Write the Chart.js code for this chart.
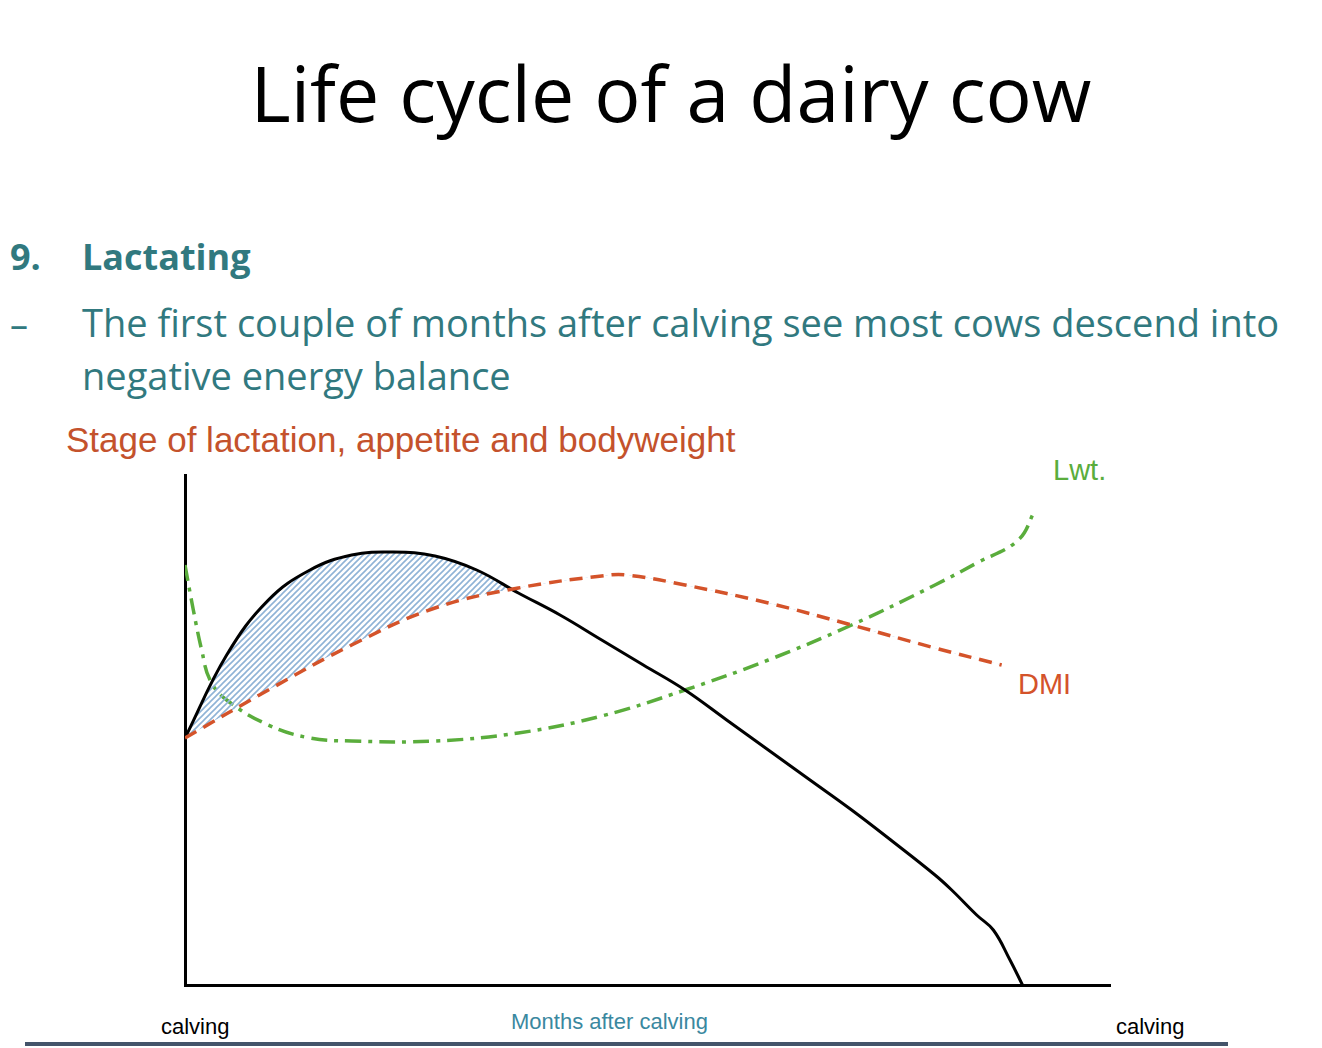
<!DOCTYPE html>
<html><head><meta charset="utf-8">
<script src="https://cdn.jsdelivr.net/npm/chart.js@4"></script>
<style>
body{margin:0;width:1322px;height:1048px;position:relative;background:#fff;font-family:"Liberation Sans",Arial,sans-serif;overflow:hidden}
.t{position:absolute;white-space:nowrap}
#wrap{position:absolute;left:0;top:0;width:1322px;height:1048px}
</style></head><body>
<div class="t" style="left:0;width:1342px;text-align:center;top:40px;font-size:77px;font-family:'Open Sans',sans-serif;color:#000">Life cycle of a dairy cow</div>
<div class="t" style="left:10px;top:232px;font-size:36px;font-weight:bold;color:#31797f;font-family:'Open Sans',sans-serif">9.</div>
<div class="t" style="left:82px;top:232px;font-size:36px;font-weight:bold;color:#31797f;font-family:'Open Sans',sans-serif">Lactating</div>
<div class="t" style="left:10px;top:300px;font-size:36px;color:#31797f;font-family:'Open Sans',sans-serif">–</div>
<div class="t" style="left:82px;top:296px;font-size:38px;color:#31797f;font-family:'Open Sans',sans-serif;line-height:53px">The first couple of months after calving see most cows descend into<br>negative energy balance</div>
<div class="t" style="left:66px;top:420px;font-size:35px;color:#c4522c">Stage of lactation, appetite and bodyweight</div>
<div class="t" style="left:1053px;top:454px;font-size:29px;color:#5aad3c;font-family:'Liberation Sans Narrow','Liberation Sans'">Lwt.</div>
<div class="t" style="left:1018px;top:668px;font-size:29px;color:#d4532a;font-family:'Liberation Sans Narrow','Liberation Sans'">DMI</div>
<div class="t" style="left:161px;top:1014px;font-size:22px;color:#000;font-family:'Liberation Sans Narrow','Liberation Sans'">calving</div>
<div class="t" style="left:1116px;top:1014px;font-size:22px;color:#000;font-family:'Liberation Sans Narrow','Liberation Sans'">calving</div>
<div class="t" style="left:511px;top:1009px;font-size:22px;color:#3a88a0;font-family:'Liberation Sans Narrow','Liberation Sans'">Months after calving</div>
<div style="position:absolute;left:25px;top:1042px;width:1203px;height:4px;background:#44546a"></div>
<div id="wrap"><canvas id="c" width="1322" height="1048"></canvas></div>
<script>
const milkX=[0,0.5,1,1.5,2,2.5,3,3.5,4,4.5,5,5.5,6,6.5,7,7.5,8,8.5,9,9.2,9.5,9.7,9.9,10.05];
const milkY=[247,330,385,415,430,433,429,415,392,370,345,320,295,265,235,205,175,143,110,95,70,55,25,0];
const dmiX=[0,1,2,3,4,5,5.3,6,7,8,9,9.8];
const dmiY=[247,295,340,377,397,409,410,400,382,360,337,320];
const lwtX=[0,0.1,0.2,0.3,0.5,1,1.5,2,3,4,5,6,7,8,9,9.5,10,10.2];
const lwtY=[420,375,335,305,285,260,247,244,244,252,269,295,325,360,400,422,445,475];
const xTicks=[0,2,4,6,8,10];
const pts=(xs,ys)=>xs.map((x,i)=>({x,y:ys[i]}));
const pc=document.createElement('canvas');pc.width=6;pc.height=6;
const g=pc.getContext('2d');g.strokeStyle='#8fb3d6';g.lineWidth=1.6;
g.beginPath();g.moveTo(0,6);g.lineTo(6,0);g.moveTo(-3,3);g.lineTo(3,-3);g.moveTo(3,9);g.lineTo(9,3);g.stroke();
const pattern=g.createPattern(pc,'repeat');
new Chart(document.getElementById('c'),{type:'line',
data:{datasets:[
{label:'DMI',data:pts(dmiX,dmiY),borderColor:'#d4532a',borderWidth:3.5,borderDash:[13,8],tension:0.4,pointRadius:0,fill:false},
{label:'Milk',data:pts(milkX,milkY),borderColor:'#000',borderWidth:3,tension:0.4,pointRadius:0,fill:{target:0,above:pattern,below:'rgba(0,0,0,0)'}},
{label:'Lwt',data:pts(lwtX,lwtY),borderColor:'#5aad3c',borderWidth:3.5,borderDash:[16,7,4,7],tension:0.4,pointRadius:0,fill:false}
]},
options:{responsive:false,animation:false,devicePixelRatio:1,
layout:{padding:{left:185,right:212,top:475,bottom:63}},
plugins:{legend:{display:false},tooltip:{enabled:false}},
scales:{
x:{type:'linear',min:0,max:11.1,grid:{display:false},border:{display:true,color:'#000',width:3},
afterFit:s=>{s.height=0},
afterBuildTicks:s=>{s.ticks=xTicks.map(v=>({value:v}))},
ticks:{padding:-2,font:{size:19,family:"'Liberation Sans Narrow','Liberation Sans'"},color:'#3a88a0',maxRotation:0}},
y:{min:0,max:510,grid:{display:false},border:{display:true,color:'#000',width:3},ticks:{display:false},afterFit:s=>{s.width=0}}
}}});
</script>
</body></html>
